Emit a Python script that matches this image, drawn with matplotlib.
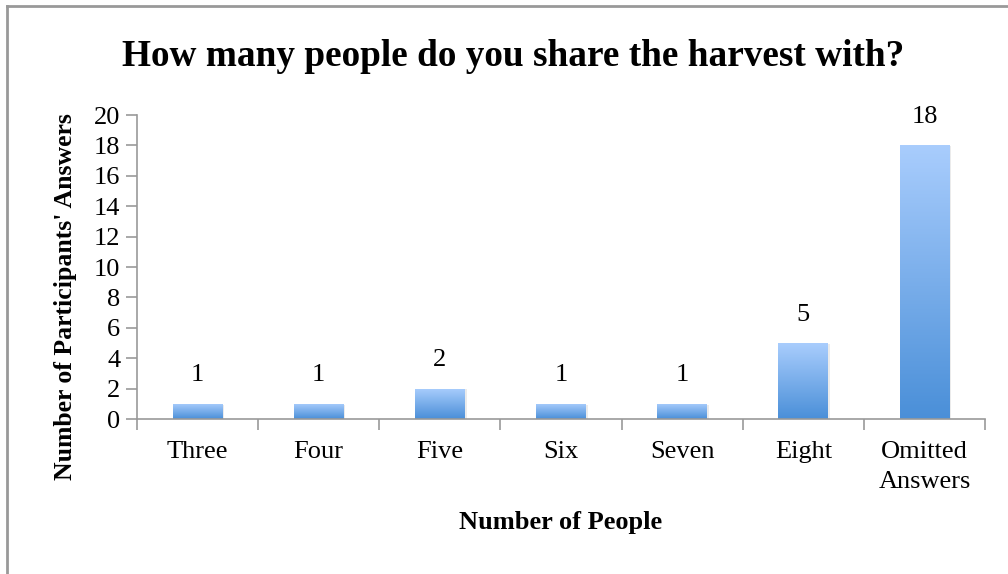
import matplotlib.pyplot as plt
import numpy as np
from matplotlib.lines import Line2D
from matplotlib.patches import Rectangle

categories = ['Three', 'Four', 'Five', 'Six', 'Seven', 'Eight', 'Omitted\nAnswers']
counts = [1, 1, 2, 1, 1, 5, 18]

plt.rcParams['font.family'] = ['Liberation Serif', 'DejaVu Serif']

fig = plt.figure(figsize=(10.08, 5.74), dpi=100)
ax = fig.add_axes([137/1008, 1-419/574, (985-137)/1008, (419-115)/574])

x = np.arange(len(categories))
width = 0.41
grad = np.linspace(0, 1, 256).reshape(-1, 1)
cmap = plt.matplotlib.colors.LinearSegmentedColormap.from_list('bar', ['#4a8fd8', '#a9cdfd'])

for xi, c in zip(x, counts):
    # faint shadow then gradient fill
    sh = Rectangle((xi - width/2 + 0.015, -0.05), width, c, color='#000000', alpha=0.08, lw=0, zorder=1)
    ax.add_patch(sh)
    im = ax.imshow(grad, cmap=cmap, aspect='auto', origin='lower',
                   extent=(xi - width/2, xi + width/2, 0, c), zorder=2)
    rect = Rectangle((xi - width/2, 0), width, c, fill=False, lw=0)
    ax.add_patch(rect)
    im.set_clip_path(rect)
    ax.text(xi, c + 1.15, str(c), ha='center', va='bottom', fontsize=19)

ax.set_xlim(-0.5, len(categories) - 0.5)
ax.set_ylim(0, 20)
ax.set_yticks(range(0, 21, 2))
ax.tick_params(axis='y', labelsize=19, color='#999999', length=8, width=1.2, pad=4)
ax.set_xticks(x)
ax.set_xticklabels(categories, fontsize=19, linespacing=1.45)
ax.tick_params(axis='x', length=0, pad=16)
ax.set_xticks(np.arange(-0.5, len(categories)), minor=True)
ax.tick_params(axis='x', which='minor', length=8, color='#999999', width=1.2)

for s in ['top', 'right']:
    ax.spines[s].set_visible(False)
for s in ['left', 'bottom']:
    ax.spines[s].set_color('#999999')
    ax.spines[s].set_linewidth(1.2)

ax.set_xlabel('Number of People', fontsize=19, fontweight='bold')
ax.xaxis.set_label_coords(0.5, (419-522)/304)
ax.xaxis.label.set_va('center')
ax.set_ylabel("Number of Participants' Answers", fontsize=18.5, fontweight='bold')
ax.yaxis.set_label_coords((66-137)/848, (419-297)/304)
ax.yaxis.label.set_va('center')
fig.text(513/1008, 1-57/574, 'How many people do you share the harvest with?',
         ha='center', va='center', fontsize=26.8, fontweight='bold')

# outer chart border (only top and left visible)
fig.add_artist(Line2D([7/1008, 7/1008], [0, 1-6/574], color='#999999', lw=2, transform=fig.transFigure))
fig.add_artist(Line2D([7/1008, 1], [1-6/574, 1-6/574], color='#999999', lw=2, transform=fig.transFigure))

plt.savefig('out.png', dpi=100)
